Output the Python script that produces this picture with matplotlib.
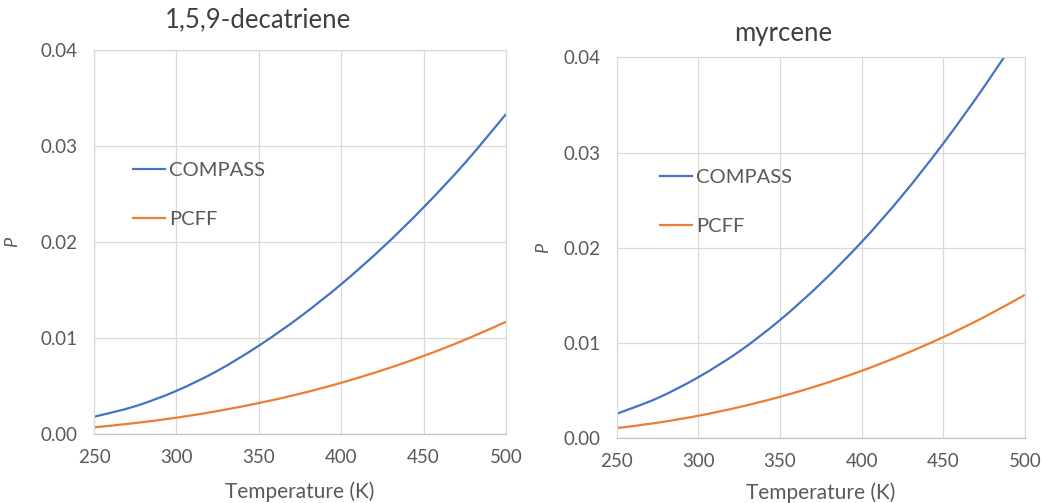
import matplotlib
matplotlib.use("Agg")
import matplotlib.pyplot as plt
from matplotlib.lines import Line2D
from matplotlib.patches import PathPatch
from matplotlib.path import Path

plt.rcParams["font.family"] = ["Lato", "DejaVu Sans"]

temperature = [250, 275, 300, 325, 350, 375, 400, 425, 450, 475, 500]

decatriene_compass = [0.0018, 0.0029, 0.0045, 0.0066, 0.0092, 0.0122, 0.0156, 0.0194, 0.0236, 0.0282, 0.0333]
decatriene_pcff = [0.00070, 0.00115, 0.00171, 0.00240, 0.00323, 0.00420, 0.00534, 0.00665, 0.00813, 0.00981, 0.01169]

myrcene_compass = [0.00256, 0.00421, 0.00641, 0.00911, 0.01241, 0.01626, 0.02061, 0.02551, 0.03096, 0.03691, 0.04331]
myrcene_pcff = [0.00105, 0.00162, 0.00235, 0.00326, 0.00434, 0.00561, 0.00707, 0.00874, 0.01061, 0.01271, 0.01505]

x_ticks = [250, 300, 350, 400, 450, 500]
y_ticks = [0.00, 0.01, 0.02, 0.03, 0.04]

BLUE = "#4472C4"
ORANGE = "#ED7D31"
GRID = "#D9D9D9"
TEXT = "#595959"


def smooth_line(ax, xs, ys, color):
    # Excel-style smoothed line: cubic Bezier segments through every point
    verts = [(xs[0], ys[0])]
    codes = [Path.MOVETO]
    n = len(xs)
    for i in range(n - 1):
        x0, y0 = xs[max(i - 1, 0)], ys[max(i - 1, 0)]
        x1, y1 = xs[i], ys[i]
        x2, y2 = xs[i + 1], ys[i + 1]
        x3, y3 = xs[min(i + 2, n - 1)], ys[min(i + 2, n - 1)]
        c1 = (x1 + (x2 - x0) / 6, y1 + (y2 - y0) / 6)
        c2 = (x2 - (x3 - x1) / 6, y2 - (y3 - y1) / 6)
        verts += [c1, c2, (x2, y2)]
        codes += [Path.CURVE4] * 3
    patch = PathPatch(Path(verts, codes), facecolor="none", edgecolor=color,
                      linewidth=1.6, capstyle="butt")
    ax.add_patch(patch)


fig = plt.figure(figsize=(10.42, 5.03), dpi=100)
ax_left = fig.add_axes([0.0902, 0.137, 0.3954, 0.764])
ax_right = fig.add_axes([0.592, 0.129, 0.3916, 0.757])

panels = [
    (ax_left, decatriene_compass, decatriene_pcff, -0.199, -0.151, (0.0947, 0.707)),
    (ax_right, myrcene_compass, myrcene_pcff, -0.181, -0.144, (0.105, 0.706)),
]

for ax, compass, pcff, ylabel_x, xlabel_y, legend_anchor in panels:
    smooth_line(ax, temperature, compass, BLUE)
    smooth_line(ax, temperature, pcff, ORANGE)
    ax.set_xlim(250, 500)
    ax.set_ylim(0, 0.04)
    ax.set_xticks(x_ticks)
    ax.set_yticks(y_ticks)
    ax.set_yticklabels([f"{v:.2f}" for v in y_ticks])
    ax.grid(True, color=GRID, linewidth=0.9)
    ax.set_axisbelow(True)
    for side in ["top", "right", "left"]:
        ax.spines[side].set_color(GRID)
        ax.spines[side].set_linewidth(0.9)
    ax.spines["bottom"].set_color("#BFBFBF")
    ax.tick_params(length=0, labelsize=13.5, labelcolor=TEXT)
    ax.tick_params(axis="x", pad=11)
    ax.tick_params(axis="y", pad=12)
    ax.set_xlabel("Temperature (K)", fontsize=15, color=TEXT, va="center")
    ax.xaxis.set_label_coords(0.5, xlabel_y)
    ax.set_ylabel("P", fontsize=13, color=TEXT, style="italic", va="center")
    ax.yaxis.set_label_coords(ylabel_x, 0.5)
    handles = [Line2D([], [], color=BLUE, linewidth=1.6),
               Line2D([], [], color=ORANGE, linewidth=1.6)]
    ax.legend(handles, ["COMPASS", "PCFF"], loc="upper left",
              bbox_to_anchor=legend_anchor, frameon=False, borderpad=0,
              borderaxespad=0, fontsize=14.5, handlelength=1.6,
              handletextpad=0.2, labelspacing=1.58, labelcolor=TEXT)

fig.text(0.2476, 0.960, "1,5,9-decatriene", fontsize=18.5, color="#404040",
         ha="center", va="center")
fig.text(0.7514, 0.934, "myrcene", fontsize=18.5, color="#404040",
         ha="center", va="center")

fig.savefig("out.png", dpi=100)
